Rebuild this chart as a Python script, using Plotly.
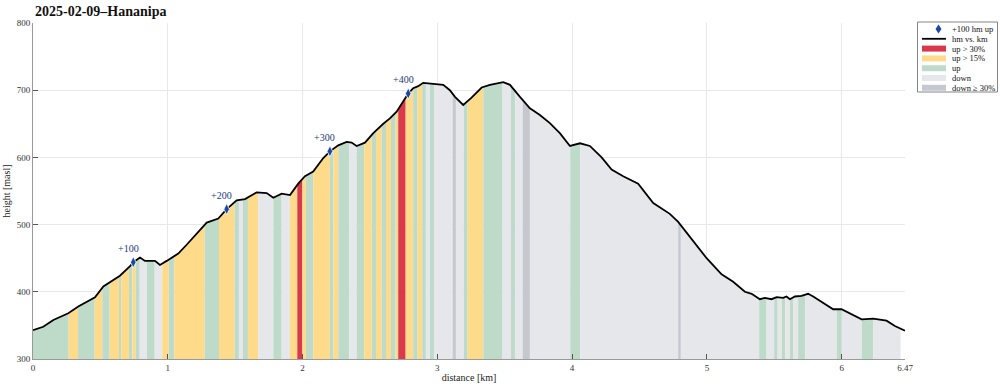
import numpy as np
import plotly.graph_objects as go

# ---- profile (distance km, height masl) ----
DIST = [0.0, 0.076, 0.151, 0.262, 0.336, 0.460, 0.522, 0.571, 0.645, 0.720, 0.744, 0.794, 0.831, 0.905, 0.942,
        0.992, 1.078, 1.140, 1.214, 1.289, 1.375, 1.437, 1.511, 1.573, 1.660, 1.734, 1.783, 1.845, 1.907, 1.968,
        2.018, 2.079, 2.154, 2.203, 2.265, 2.327, 2.364, 2.401, 2.463, 2.525, 2.599, 2.648, 2.698, 2.747, 2.784,
        2.821, 2.858, 2.895, 2.970, 3.044, 3.093, 3.131, 3.192, 3.254, 3.329, 3.390, 3.489, 3.539, 3.613, 3.687,
        3.761, 3.835, 3.909, 3.984, 4.058, 4.132, 4.219, 4.293, 4.379, 4.490, 4.602, 4.725, 4.787, 4.898, 4.998,
        5.109, 5.195, 5.282, 5.332, 5.393, 5.430, 5.480, 5.517, 5.566, 5.591, 5.616, 5.653, 5.702, 5.751, 5.789,
        5.851, 5.937, 5.999, 6.061, 6.148, 6.234, 6.283, 6.333, 6.395, 6.470]
ELEV = [343, 348, 358, 368, 378, 392, 408, 414, 424, 438, 444, 451, 446, 446, 440,
        446, 457, 470, 487, 503, 509, 523, 536, 538, 548, 547, 540, 546, 544, 561,
        572, 579, 599, 609, 618, 623, 622, 617, 622, 636, 650, 658, 668, 683, 695,
        703, 706, 711, 710, 708, 700, 690, 678, 689, 704, 708, 712, 708, 690, 673,
        663, 651, 636, 617, 621, 617, 600, 582, 572, 561, 532, 516, 504, 475, 450,
        426, 415, 400, 397, 389, 391, 389, 392, 391, 393, 389, 393, 394, 397, 393,
        385, 374, 374, 368, 359, 360, 358, 357, 349, 342]

# ---- slope-class bands ----
BAND_EDGES = [0.0, 0.265, 0.334, 0.458, 0.514, 0.569, 0.638, 0.655, 0.712, 0.737, 0.762, 0.792, 0.846, 0.903,
              0.959, 1.007, 1.048, 1.274, 1.380, 1.496, 1.528, 1.558, 1.595, 1.671, 1.783, 1.845, 1.907, 1.961,
              1.998, 2.025, 2.079, 2.203, 2.229, 2.265, 2.346, 2.401, 2.458, 2.513, 2.545, 2.587, 2.619, 2.656,
              2.691, 2.710, 2.765, 2.821, 2.854, 2.888, 2.915, 2.945, 2.975, 3.113, 3.138, 3.197, 3.225, 3.341,
              3.484, 3.546, 3.576, 3.633, 3.687, 3.986, 4.060, 4.787, 4.807, 5.388, 5.443, 5.499, 5.525, 5.556,
              5.581, 5.616, 5.643, 5.677, 5.729, 5.964, 6.001, 6.150, 6.234, 6.437]
BAND_CLASS = ["G", "Y", "G", "Y", "G", "Y", "G", "Y", "G", "Y",
              "G", "D", "G", "D", "Y", "G", "Y", "G", "Y", "G",
              "D", "G", "Y", "D", "G", "D", "Y", "R", "Y", "G",
              "Y", "G", "Y", "G", "D", "G", "Y", "G", "Y", "G",
              "Y", "G", "Y", "R", "Y", "G", "Y", "G", "D", "G",
              "D", "DD", "D", "G", "Y", "G", "D", "G", "D", "DD",
              "D", "G", "D", "DD", "D", "G", "D", "G", "D", "G",
              "D", "G", "D", "G", "D", "G", "D", "G", "D"]

CLASS_ORDER = ["R", "Y", "G", "D", "DD"]
CLASS_NAME = {"R": "up > 30%", "Y": "up > 15%", "G": "up", "D": "down", "DD": "down \u2265 30%"}
CLASS_COLOR = {"R": "#d9394b", "Y": "#fedb8b", "G": "#bedbca", "D": "#e6e7eb", "DD": "#c6c8d0"}

# ---- +100 hm markers ----
MARK_KM = [0.744, 1.437, 2.203, 2.784]
MARK_ELEV = [444, 523, 609, 695]
MARK_LABEL = ["+100", "+200", "+300", "+400"]
MARK_NAME = "+100 hm up"
LINE_NAME = "hm vs. km"

X_TICKS = [0, 1, 2, 3, 4, 5, 6, 6.47]
X_TICKTEXT = ["0", "1", "2", "3", "4", "5", "6", "6.47"]
Y_TICKS = [300, 400, 500, 600, 700, 800]

FONT = "Liberation Serif"
BASE = 300
MARK_COLOR = "#1a48a6"

W, H = 1000, 388
ML, MR, MT, MB = 33, 95, 23, 29
PW, PH = W - ML - MR, H - MT - MB


def pxx(p):
    return (p - ML) / PW


def pxy(p):
    return (H - MB - p) / PH


d = np.array(DIST)
e = np.array(ELEV)

fig = go.Figure()

for a, b, c in zip(BAND_EDGES[:-1], BAND_EDGES[1:], BAND_CLASS):
    inner = (d > a) & (d < b)
    xs = np.concatenate([[a], d[inner], [b]])
    ys = np.interp(xs, d, e)
    px = list(xs) + [b, a]
    py = list(ys) + [BASE, BASE]
    fig.add_trace(go.Scatter(
        x=px, y=py, mode="lines", fill="toself", fillcolor=CLASS_COLOR[c],
        line=dict(width=0, color=CLASS_COLOR[c]), hoverinfo="skip",
        name=CLASS_NAME[c], showlegend=False))

fig.add_trace(go.Scatter(x=DIST, y=ELEV, mode="lines", line=dict(color="black", width=1.8),
                         name=LINE_NAME, showlegend=False))
fig.add_trace(go.Scatter(x=MARK_KM, y=MARK_ELEV, mode="markers",
                         marker=dict(symbol="diamond-tall", size=8, color=MARK_COLOR,
                                     line=dict(color="white", width=0.8)),
                         name=MARK_NAME, showlegend=False))

for xk, yk, t in zip(MARK_KM, MARK_ELEV, MARK_LABEL):
    fig.add_annotation(x=xk, y=yk, text=t, showarrow=False, xshift=-5, yshift=14,
                       font=dict(family=FONT, size=10, color="#23397a"))

fig.add_annotation(xref="paper", yref="paper", x=0, y=1, yshift=2, xanchor="left", yanchor="bottom",
                   text="<b>2025-02-09\u2013Hananipa</b>", showarrow=False,
                   font=dict(family=FONT, size=14, color="#111"))

# ---- custom compact legend ----
LEG_L, LEG_R, LEG_T, LEG_B = 917.5, 997.5, 22, 92
shapes = [dict(type="rect", xref="paper", yref="paper", x0=pxx(LEG_L), x1=pxx(LEG_R),
               y0=pxy(LEG_B), y1=pxy(LEG_T), line=dict(color="#666", width=0.8), fillcolor="white",
               layer="above")]
rows = [MARK_NAME, LINE_NAME] + [CLASS_NAME[c] for c in CLASS_ORDER]
row_y = [29 + 9.8 * i for i in range(len(rows))]
sx0, sx1 = 922, 946
for i, label in enumerate(rows):
    yc = row_y[i]
    if i == 0:
        cx = 938.5
        path = "M {} {} L {} {} L {} {} L {} {} Z".format(
            pxx(cx), pxy(yc - 4.5), pxx(cx + 3), pxy(yc), pxx(cx), pxy(yc + 4.5), pxx(cx - 3), pxy(yc))
        shapes.append(dict(type="path", xref="paper", yref="paper", path=path,
                           fillcolor=MARK_COLOR, line=dict(width=0), layer="above"))
    elif i == 1:
        shapes.append(dict(type="line", xref="paper", yref="paper", x0=pxx(sx0), x1=pxx(sx1),
                           y0=pxy(yc), y1=pxy(yc), line=dict(color="black", width=1.8), layer="above"))
    else:
        c = CLASS_ORDER[i - 2]
        shapes.append(dict(type="rect", xref="paper", yref="paper", x0=pxx(sx0), x1=pxx(sx1),
                           y0=pxy(yc + 3), y1=pxy(yc - 3), fillcolor=CLASS_COLOR[c],
                           line=dict(width=0), layer="above"))
    fig.add_annotation(xref="paper", yref="paper", x=pxx(950), y=pxy(yc), xanchor="left", yanchor="middle",
                       text=label, showarrow=False, font=dict(family=FONT, size=8.5, color="#111"))

axis_common = dict(showgrid=True, gridcolor="#e8e8e8", gridwidth=1, showline=True, linecolor="#9a9a9a",
                   linewidth=1, ticks="inside", ticklen=5, tickcolor="#555", zeroline=False,
                   automargin=False, tickfont=dict(family=FONT, size=9, color="#333"))

fig.update_xaxes(range=[0, 6.47], tickvals=X_TICKS, ticktext=X_TICKTEXT,
                 title=dict(text="distance [km]", font=dict(family=FONT, size=10, color="#222"), standoff=2),
                 **axis_common)
fig.update_yaxes(range=[300, 800], tickvals=Y_TICKS,
                 title=dict(text="height [masl]", font=dict(family=FONT, size=10, color="#222"), standoff=4),
                 **axis_common)

fig.update_layout(
    width=W, height=H,
    margin=dict(l=ML, r=MR, t=MT, b=MB, autoexpand=False),
    paper_bgcolor="white", plot_bgcolor="white",
    showlegend=False,
    shapes=shapes,
    font=dict(family=FONT),
)

fig.write_html("out.html")
